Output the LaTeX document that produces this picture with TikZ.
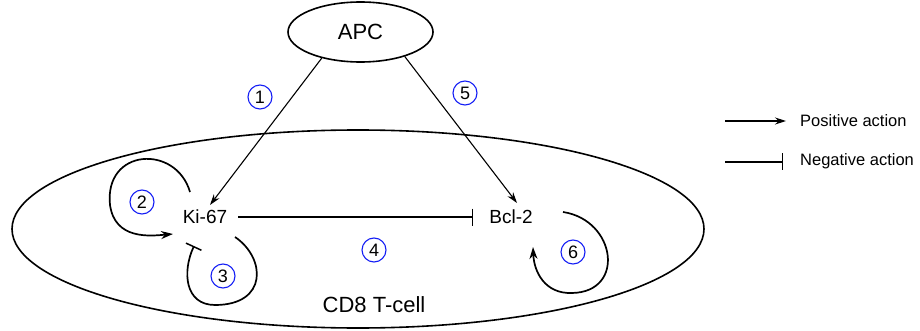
\documentclass[tikz,border=0pt]{standalone}
\usepackage{fontspec}
\setmainfont{Liberation Sans}
\usetikzlibrary{shapes.geometric,arrows.meta}
\begin{document}
\begin{tikzpicture}[x=1pt,y=-1pt,
  fs/.style={font=\fontsize{#1}{#1}\selectfont},
  oval/.style={draw,ellipse,line width=1.6pt,inner sep=0pt},
  marker/.style={inner sep=1pt,fs=19},
  stepnum/.style={draw={rgb,255:red,20;green,30;blue,245},circle,line width=1.1pt,
    minimum size=24pt,inner sep=0pt,fs=18},
  posarrow/.style={line width=1.1pt,-{Stealth[length=11pt,width=7pt]}},
  negarrow/.style={line width=1.1pt,-{Bar[width=17pt,line width=1.3pt]}},
  posloop/.style={line width=1.7pt,-{Stealth[length=12pt,width=8pt]}},
  negloop/.style={line width=1.7pt,-{Bar[width=17pt,line width=1.5pt]}},
  legtext/.style={anchor=west,inner sep=0pt,fs=16.5}]
\useasboundingbox (0,0) rectangle (920,331);

% cell and antigen-presenting cell
\node[oval,minimum width=692pt,minimum height=198pt] (cell) at (358,229) {};
\node[oval,minimum width=145pt,minimum height=60pt,fs=22] (apc) at (360.5,32) {APC};
\node[fs=22,inner sep=0pt] (cd8) at (374,305) {CD8 T-cell};

% markers
\node[marker] (ki) at (205,217) {Ki-67};
\node[marker] (bcl) at (511,217) {Bcl-2};

% interactions
\draw[posarrow] (apc.214) -- ([shift={(5,-12)}]ki.center);
\draw[posarrow] (apc.331) -- ([shift={(6,-14)}]bcl.center);
\draw[negarrow] ([xshift=10pt]ki.east) -- ([xshift=-15pt]bcl.west);

% self loops
\draw[posloop] ([shift={(-15,-25)}]ki.center)
  .. controls (176,144) and (104,148) .. (110,205)
  .. controls (115,240) and (150,236) .. ([shift={(-32,17)}]ki.center);
\draw[negloop] ([shift={(30,20)}]ki.center)
  .. controls (266,258) and (268,305) .. (215,305)
  .. controls (185,305) and (182,272) .. ([shift={(-11,29)}]ki.center);
\draw[posloop] ([shift={(52,-5)}]bcl.center)
  .. controls (616,220) and (626,292) .. (572,293)
  .. controls (545,294) and (534,272) .. ([shift={(22,30)}]bcl.center);

% step numbers
\node[stepnum] (n1) at (260,97) {1};
\node[stepnum] (n2) at (142,202) {2};
\node[stepnum] (n3) at (223,276) {3};
\node[stepnum] (n4) at (374,250) {4};
\node[stepnum] (n5) at (465,93) {5};
\node[stepnum] (n6) at (573,252) {6};

% legend
\coordinate (p0) at (725,121);
\coordinate (p1) at (786,121);
\coordinate (q0) at (725,162);
\coordinate (q1) at (783,162);
\draw[posarrow] (p0) -- (p1);
\draw[negarrow] (q0) -- (q1);
\node[legtext] (lp) at (800,121) {Positive action};
\node[legtext] (ln) at (800,161) {Negative action};
\end{tikzpicture}
\end{document}
